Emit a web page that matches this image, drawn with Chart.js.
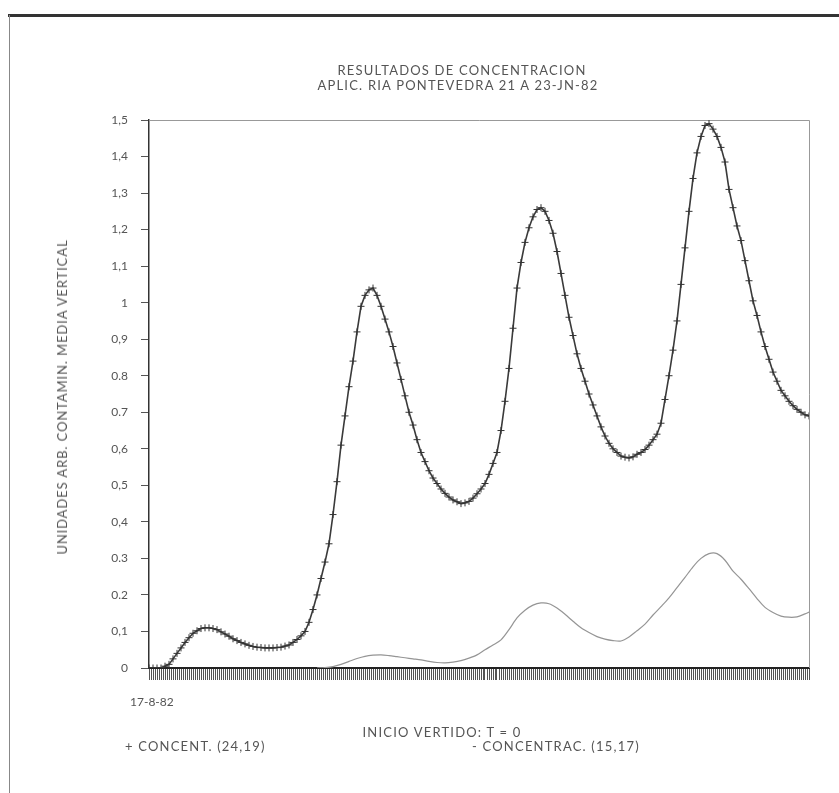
<!DOCTYPE html>
<html>
<head>
<meta charset="utf-8">
<script src="https://cdn.jsdelivr.net/npm/chart.js@4.4.1/dist/chart.umd.min.js"></script>
<style>
  body { margin: 0; background: #fff; }
  #wrap { position: relative; width: 839px; height: 793px; }
  .txt { position: absolute; font-family: Lato, "DejaVu Sans", sans-serif; font-size: 13px; letter-spacing: 1.2px; color: #555; white-space: nowrap; line-height: 14px; }
  .c { transform: translate(-50%, -50%); }
  .l { transform: translate(0, -50%); }
  .rot { transform: translate(-50%, -50%) rotate(-90deg); letter-spacing: 0.9px; }
</style>
</head>
<body>
<div id="wrap">
  <canvas id="chart" width="839" height="793"></canvas>
  <div class="txt c" style="left:462px; top:70px;">RESULTADOS DE CONCENTRACION</div>
  <div class="txt c" style="left:458px; top:85px;">APLIC. RIA PONTEVEDRA 21 A 23-JN-82</div>
  <div class="txt rot" style="left:62px; top:397px;">UNIDADES ARB. CONTAMIN. MEDIA VERTICAL</div>
  <div class="txt l" style="left:130px; top:702px; font-size:12px; letter-spacing:0;">17-8-82</div>
  <div class="txt c" style="left:442px; top:732px;">INICIO VERTIDO: T = 0</div>
  <div class="txt l" style="left:125px; top:746px;">+ CONCENT. (24,19)</div>
  <div class="txt l" style="left:472px; top:746px;">- CONCENTRAC. (15,17)</div>
</div>
<script>
// y tick labels as printed (comma / point as they appear)
var yLabels = ['0', '0,1', '0.2', '0.3', '0,4', '0,5', '0,6', '0.7', '0.8', '0,9', '1', '1,1', '1,2', '1,3', '1,4', '1,5'];

// CONCENT. (24,19) - one value per time step 0..165
var concent = [
  0, 0, 0, 0, 0.005, 0.01, 0.025, 0.04, 0.055, 0.07,
  0.083, 0.095, 0.102, 0.108, 0.11, 0.11, 0.108, 0.105, 0.099, 0.093,
  0.087, 0.08, 0.075, 0.07, 0.066, 0.062, 0.059, 0.057, 0.056, 0.055,
  0.055, 0.055, 0.056, 0.057, 0.06, 0.063, 0.07, 0.078, 0.088, 0.1,
  0.125, 0.16, 0.2, 0.245, 0.29, 0.34, 0.42, 0.51, 0.61, 0.69,
  0.77, 0.84, 0.92, 0.99, 1.02, 1.035, 1.04, 1.02, 0.99, 0.955,
  0.92, 0.88, 0.835, 0.79, 0.745, 0.70, 0.665, 0.625, 0.59, 0.565,
  0.54, 0.52, 0.505, 0.49, 0.478, 0.468, 0.46, 0.455, 0.45, 0.452,
  0.456, 0.465, 0.477, 0.49, 0.505, 0.53, 0.56, 0.59, 0.65, 0.73,
  0.82, 0.93, 1.04, 1.11, 1.165, 1.205, 1.235, 1.255, 1.26, 1.25,
  1.225, 1.19, 1.14, 1.08, 1.02, 0.96, 0.91, 0.86, 0.82, 0.785,
  0.75, 0.72, 0.69, 0.66, 0.635, 0.615, 0.60, 0.59, 0.58, 0.577,
  0.575, 0.578, 0.585, 0.59, 0.598, 0.61, 0.625, 0.64, 0.67, 0.735,
  0.8, 0.87, 0.95, 1.05, 1.15, 1.25, 1.34, 1.41, 1.455, 1.485,
  1.49, 1.475, 1.455, 1.425, 1.385, 1.31, 1.26, 1.21, 1.17, 1.115,
  1.06, 1.005, 0.965, 0.92, 0.88, 0.845, 0.81, 0.785, 0.76, 0.745,
  0.73, 0.718, 0.708, 0.70, 0.693, 0.69
];

// CONCENTRAC. (15,17) - time steps and values
var concentracT = [
  42, 44, 46, 48, 50, 52, 54, 56, 58, 60, 62, 64, 66, 68, 70, 72, 74, 76, 78, 80,
  82, 84, 86, 88, 90, 92, 94, 96, 98, 100, 102, 104, 106, 108, 110, 112, 114, 116, 118, 120,
  122, 124, 126, 128, 130, 132, 134, 136, 138, 140, 142, 144, 146, 148, 150, 152, 154, 156, 158, 160,
  162, 164, 165
];
var concentrac = [
  0, 0.001, 0.004, 0.01, 0.018, 0.026, 0.032, 0.035, 0.036, 0.034, 0.031, 0.028, 0.025, 0.022, 0.018, 0.015, 0.014, 0.016, 0.02, 0.027,
  0.036, 0.05, 0.063, 0.077, 0.105, 0.137, 0.158, 0.172, 0.178, 0.176, 0.164, 0.147, 0.128, 0.11, 0.097, 0.086, 0.079, 0.075, 0.074, 0.085,
  0.102, 0.12, 0.145, 0.168, 0.192, 0.22, 0.248, 0.277, 0.3, 0.313, 0.313, 0.295, 0.265, 0.243, 0.217, 0.19, 0.166, 0.152, 0.142, 0.139,
  0.14, 0.148, 0.153
];

var series1 = concent.map(function(v, i) { return {x: i, y: v}; });
var series2 = concentrac.map(function(v, i) { return {x: concentracT[i], y: v}; });

// frame of the page + box round the plot
var framePlugin = {
  id: 'frame',
  beforeDatasetsDraw: function(chart) {
    var c = chart.ctx, a = chart.chartArea;
    c.save();
    c.strokeStyle = '#999';
    c.lineWidth = 1;
    c.beginPath();
    c.moveTo(a.left, a.top + 0.5);
    c.lineTo(a.right + 0.5, a.top + 0.5);
    c.lineTo(a.right + 0.5, a.bottom);
    c.stroke();
    c.strokeStyle = '#333';
    c.lineWidth = 3;
    c.beginPath();
    c.moveTo(8, 15.5);
    c.lineTo(839, 15.5);
    c.stroke();
    c.strokeStyle = '#888';
    c.lineWidth = 1;
    c.beginPath();
    c.moveTo(9.5, 15);
    c.lineTo(9.5, 793);
    c.stroke();
    c.restore();
  }
};

new Chart(document.getElementById('chart').getContext('2d'), {
  type: 'line',
  data: {
    datasets: [{
      label: '+ CONCENT. (24,19)',
      data: series1,
      borderColor: '#3a3a3a',
      borderWidth: 1.6,
      pointStyle: 'cross',
      pointRadius: 3.5,
      pointBorderWidth: 1,
      pointBorderColor: '#333',
      tension: 0
    }, {
      label: '- CONCENTRAC. (15,17)',
      data: series2,
      borderColor: '#959595',
      borderWidth: 1.2,
      pointRadius: 0,
      tension: 0.3
    }]
  },
  options: {
    responsive: false,
    animation: false,
    layout: { padding: { left: 45, right: 30, top: 120, bottom: 0 } },
    plugins: { legend: { display: false }, title: { display: false }, tooltip: { enabled: false } },
    scales: {
      x: {
        type: 'linear',
        min: 0,
        max: 165,
        ticks: { display: false, stepSize: 0.5 },
        grid: { drawOnChartArea: false, drawTicks: true, tickLength: 12, color: '#555', lineWidth: 1 },
        border: { display: true, color: '#222', width: 2 },
        afterFit: function(s) { s.height = 125; }
      },
      y: {
        min: 0,
        max: 1.5,
        ticks: {
          stepSize: 0.1,
          padding: 13,
          color: '#555',
          font: { family: 'Lato', size: 12 },
          callback: function(v) { return yLabels[Math.round(v * 10)]; }
        },
        grid: { drawOnChartArea: false, tickLength: 8, color: '#555' },
        border: { display: true, color: '#333', width: 1.5 },
        afterFit: function(s) { s.width = 104; }
      }
    }
  },
  plugins: [framePlugin]
});
</script>
</body>
</html>
